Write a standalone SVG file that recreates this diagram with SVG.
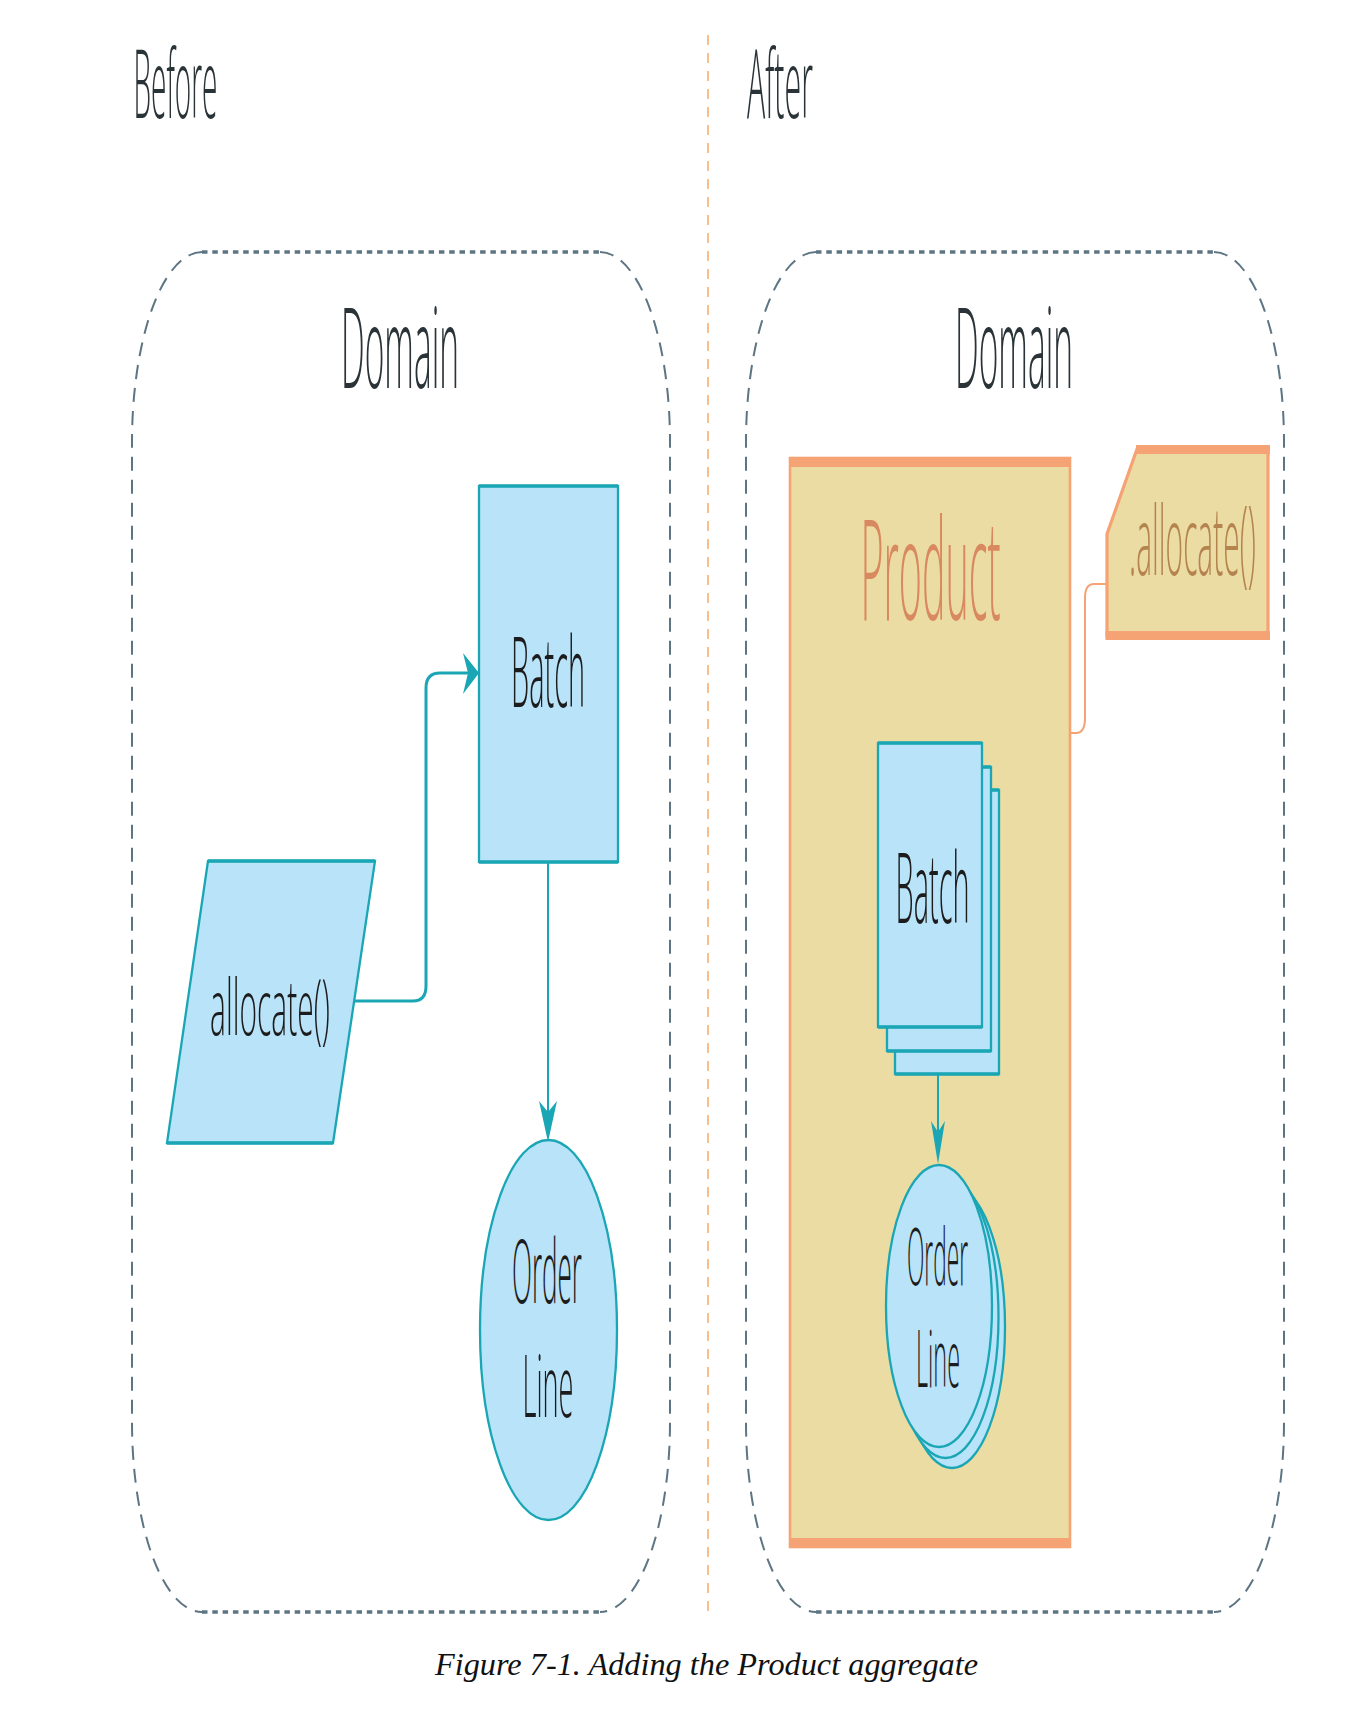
<svg xmlns="http://www.w3.org/2000/svg" width="1352" height="1718" viewBox="0 0 1352 1718">
<style>
.t{font-family:"Open Sans","DejaVu Sans",sans-serif;text-anchor:middle;font-weight:300}
.dark{fill:#2a3337}
.blk{fill:#1c1c1c}
.cont{fill:none;stroke:#5d7583}
.edgeH{stroke-width:3.4;stroke-dasharray:5.5 4.8}
.edgeV{stroke-width:2;stroke-dasharray:14 9}
.bl{fill:#b9e3f9;stroke:#1aa6b4;stroke-width:2.3}
.blh{stroke:#1aa6b4;stroke-width:3.6;fill:none}
.tl{fill:none;stroke:#1aa6b4}
.ah{fill:#1aa6b4;stroke:none}
.or{stroke:#f5a274}
</style>
<rect width="1352" height="1718" fill="#ffffff"/>

<!-- divider -->
<g id="divider">
<line x1="708" y1="35" x2="708" y2="1617" stroke="#f7b47a" stroke-width="1.7" stroke-dasharray="10 8"/>
</g>

<g id="title-before"><text class="t dark" transform="translate(175.5,118) scale(0.27,1)" x="0" y="0" font-size="95" textLength="311" lengthAdjust="spacingAndGlyphs">Before</text></g>
<g id="title-after"><text class="t dark" transform="translate(780,118) scale(0.27,1)" x="0" y="0" font-size="95" textLength="244" lengthAdjust="spacingAndGlyphs">After</text></g>

<!-- left domain -->
<g id="domain-before">
<path class="cont edgeH" d="M202,252 L600,252 M202,1612 L600,1612"/>
<path class="cont edgeV" d="M202,252 A70,190 0 0 0 132,442 L132,1422 A70,190 0 0 0 202,1612"/>
<path class="cont edgeV" d="M600,252 A70,190 0 0 1 670,442 L670,1422 A70,190 0 0 1 600,1612"/>
<text class="t dark" transform="translate(400,388) scale(0.27,1)" x="0" y="0" font-size="112" textLength="437" lengthAdjust="spacingAndGlyphs">Domain</text>
</g>

<!-- right domain -->
<g id="domain-after">
<path class="cont edgeH" d="M816,252 L1214,252 M816,1612 L1214,1612"/>
<path class="cont edgeV" d="M816,252 A70,190 0 0 0 746,442 L746,1422 A70,190 0 0 0 816,1612"/>
<path class="cont edgeV" d="M1214,252 A70,190 0 0 1 1284,442 L1284,1422 A70,190 0 0 1 1214,1612"/>
<text class="t dark" transform="translate(1014,388) scale(0.27,1)" x="0" y="0" font-size="112" textLength="437" lengthAdjust="spacingAndGlyphs">Domain</text>
</g>

<!-- Before nodes -->
<g id="batch-before">
<rect class="bl" x="479" y="486" width="139" height="376"/>
<path class="blh" d="M479,486 H618 M479,862 H618"/>
<text class="t blk" transform="translate(548,707) scale(0.27,1)" x="0" y="0" font-size="98" textLength="274" lengthAdjust="spacingAndGlyphs">Batch</text>
</g>

<g id="allocate-before">
<polygon class="bl" points="208,861 375,861 333,1143 167,1143"/>
<path class="blh" d="M208,861 H375 M167,1143 H333"/>
<text class="t blk" transform="translate(270,1035) scale(0.27,1)" x="0" y="0" font-size="78" textLength="444" lengthAdjust="spacingAndGlyphs">allocate()</text>
</g>

<g id="orderline-before">
<ellipse class="bl" cx="548.5" cy="1330" rx="68.5" ry="190"/>
<text class="t blk" transform="translate(547,1303) scale(0.27,1)" x="0" y="0" font-size="88" textLength="259" lengthAdjust="spacingAndGlyphs">Order</text>
<text class="t blk" transform="translate(548,1417) scale(0.27,1)" x="0" y="0" font-size="86" textLength="189" lengthAdjust="spacingAndGlyphs">Line</text>
</g>

<!-- After nodes -->
<g id="product">
<rect x="790" y="458" width="280" height="1089" fill="#ebdca3" stroke="#f5a274" stroke-width="2.6"/>
<rect x="789" y="457" width="282" height="10" fill="#f5a274"/>
<rect x="789" y="1538" width="282" height="10" fill="#f5a274"/>
<text class="t" transform="translate(930.5,620) scale(0.27,1)" x="0" y="0" font-size="140" fill="#d9895f" textLength="519" lengthAdjust="spacingAndGlyphs">Product</text>
</g>

<g id="allocate-after">
<polygon points="1137,449 1268,449 1268,636 1107,636 1107,534" fill="#ebdca3" stroke="#f5a274" stroke-width="3.2"/>
<rect x="1136" y="445" width="134" height="9" fill="#f5a274"/>
<rect x="1105.5" y="631" width="164.5" height="9" fill="#f5a274"/>
<text class="t" transform="translate(1192.5,575) scale(0.27,1)" x="0" y="0" font-size="96" fill="#b5834e" textLength="470" lengthAdjust="spacingAndGlyphs">.allocate()</text>
</g>

<g id="batch-after">
<rect class="bl" x="895" y="790" width="104" height="284"/>
<path class="blh" d="M895,790 H999 M895,1074 H999"/>
<rect class="bl" x="887" y="767" width="104" height="284"/>
<path class="blh" d="M887,767 H991 M887,1051 H991"/>
<rect class="bl" x="878" y="743" width="104" height="284"/>
<path class="blh" d="M878,743 H982 M878,1027 H982"/>
<text class="t blk" transform="translate(932.5,923) scale(0.27,1)" x="0" y="0" font-size="98" textLength="274" lengthAdjust="spacingAndGlyphs">Batch</text>
</g>

<g id="orderline-after">
<ellipse class="bl" cx="952" cy="1327" rx="53" ry="141"/>
<ellipse class="bl" cx="945.5" cy="1317" rx="53" ry="141"/>
<ellipse class="bl" cx="939" cy="1306" rx="53" ry="141"/>
<text class="t blk" transform="translate(937.5,1285) scale(0.27,1)" x="0" y="0" font-size="80" textLength="226" lengthAdjust="spacingAndGlyphs">Order</text>
<text class="t blk" transform="translate(938,1387) scale(0.27,1)" x="0" y="0" font-size="80" textLength="163" lengthAdjust="spacingAndGlyphs">Line</text>
</g>

<!-- connectors -->
<g id="connectors">
<path class="tl" stroke-width="3" d="M355,1001 L413,1001 Q426,1001 426,986 L426,688 Q426,673 440,673 L468,673"/>
<path class="ah" d="M479,673 L463,653 L468,673 L463,694 Z"/>
<path class="tl" stroke-width="2" d="M548,862 L548,1112"/>
<path class="ah" d="M548,1142 L539,1101 L548,1112 L557,1101 Z"/>
<path class="tl" stroke-width="2" d="M938,1074 L938,1132"/>
<path class="ah" d="M938,1164 L931,1121 L938,1132 L945,1121 Z"/>
<path class="or" fill="none" stroke-width="2" d="M1070,733 L1076,733 Q1085,733 1085,718 L1085,598 Q1085,584 1094,584 L1107,584"/>
</g>

<g id="caption">
<text x="435" y="1675" font-family="'Liberation Serif','Times New Roman',serif" font-style="italic" font-size="32" fill="#111" textLength="543" lengthAdjust="spacingAndGlyphs">Figure 7-1. Adding the Product aggregate</text>
</g>
</svg>
